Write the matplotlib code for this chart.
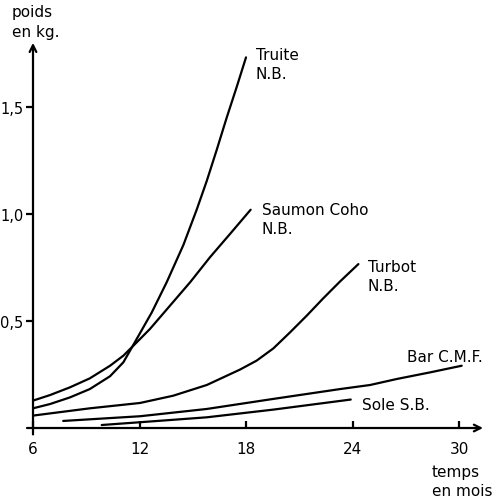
import matplotlib
matplotlib.use("Agg")
import matplotlib.pyplot as plt

# growth curves, weight (kg) vs age (months)
truite_mois = [6, 6.96, 8.08, 9.2, 10.34, 11.09, 11.8, 12.69, 13.53, 14.47,
               15.22, 15.79, 16.35, 16.91, 17.48, 18.0]
truite_kg = [0.092, 0.112, 0.143, 0.182, 0.242, 0.307, 0.41, 0.54, 0.681, 0.855,
             1.02, 1.155, 1.3, 1.45, 1.595, 1.732]

saumon_mois = [6, 6.96, 8.08, 9.2, 10.34, 11.09, 11.84, 12.59, 13.72, 14.85,
               15.97, 17.1, 18.26]
saumon_kg = [0.128, 0.154, 0.19, 0.232, 0.291, 0.338, 0.40, 0.463, 0.572, 0.681,
             0.798, 0.907, 1.02]

turbot_mois = [6, 9.2, 12.03, 13.9, 15.79, 17.66, 18.6, 19.54, 20.48, 21.42,
               22.35, 23.3, 24.33]
turbot_kg = [0.058, 0.092, 0.117, 0.151, 0.201, 0.273, 0.315, 0.372, 0.447, 0.525,
             0.606, 0.685, 0.766]

bar_mois = [7.7, 12.03, 15.79, 19.54, 23.3, 24.99, 26.49, 28.37, 30.15]
bar_kg = [0.033, 0.055, 0.089, 0.136, 0.182, 0.201, 0.229, 0.26, 0.291]

sole_mois = [9.87, 12.03, 15.79, 19.54, 23.9]
sole_kg = [0.014, 0.027, 0.05, 0.086, 0.133]

x_ticks = [6, 12, 18, 24, 30]
y_ticks = [0.5, 1.0, 1.5]
y_labels = ["0,5", "1,0", "1,5"]

fig = plt.figure(figsize=(5.0, 5.02), dpi=100)
ax = fig.add_axes([0.066, 0.1454, 0.9, 0.7673])
ax.set_xlim(6, 31.35)
ax.set_ylim(0, 1.8)

lw = 1.6
for m, v in [(truite_mois, truite_kg), (saumon_mois, saumon_kg),
             (turbot_mois, turbot_kg), (bar_mois, bar_kg), (sole_mois, sole_kg)]:
    ax.plot(m, v, color="black", lw=lw, solid_capstyle="round",
            solid_joinstyle="round")

for s in ax.spines.values():
    s.set_visible(False)

# hand-drawn style axes with open arrow heads
arrow = dict(arrowstyle="->", lw=lw, color="black", shrinkA=0, shrinkB=0,
             mutation_scale=12)
ax.annotate("", xy=(31.35, 0), xytext=(5.66, 0), arrowprops=arrow,
            annotation_clip=False)
ax.annotate("", xy=(6, 1.8), xytext=(6, -0.03), arrowprops=arrow,
            annotation_clip=False)

fs = 11
ax.set_xticks(x_ticks)
ax.set_xticklabels([str(t) for t in x_ticks], fontsize=fs)
ax.tick_params(axis="x", direction="in", length=5, width=lw, pad=9)
ax.set_yticks(y_ticks)
ax.set_yticklabels(y_labels, fontsize=10.5)
ax.tick_params(axis="y", direction="out", length=5, width=lw, pad=2)

txt = dict(fontsize=fs, va="top", ha="left", linespacing=1.35)
ax.text(4.82, 1.98, "poids\nen kg.", clip_on=False, **txt)
ax.text(18.56, 1.78, "Truite\nN.B.", **txt)
ax.text(18.9, 1.056, "Saumon Coho\nN.B.", **txt)
ax.text(24.87, 0.79, "Turbot\nN.B.", **txt)
ax.text(27.07, 0.369, "Bar C.M.F.", **txt)
ax.text(24.54, 0.145, "Sole S.B.", **txt)
ax.text(28.48, -0.168, "temps\nen mois", clip_on=False, **txt)

fig.savefig("out.png", dpi=100)
